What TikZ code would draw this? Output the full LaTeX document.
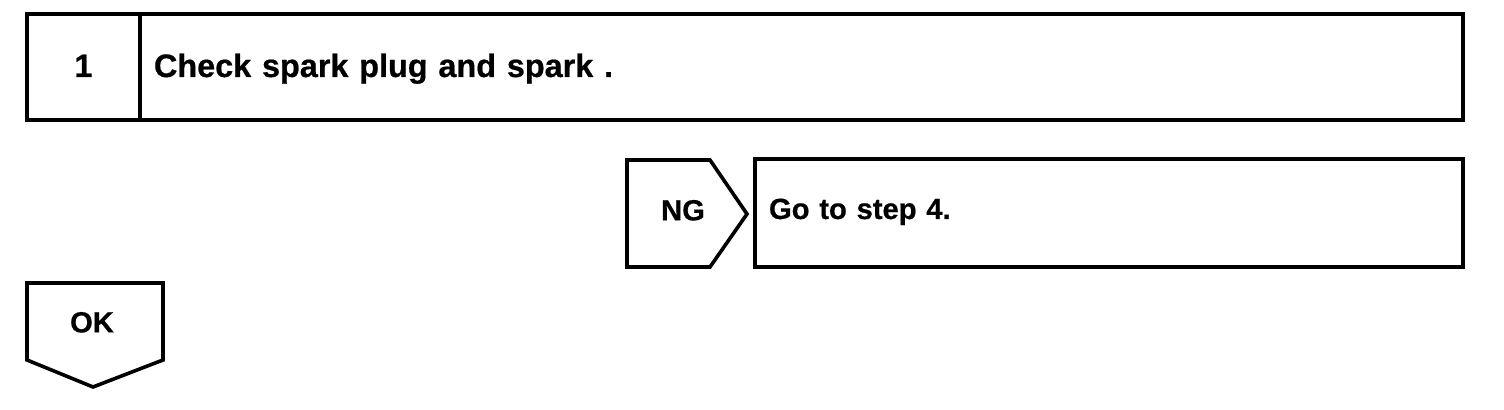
\documentclass[tikz,border=0pt]{standalone}
\usepackage{fontspec}
\setmainfont{Liberation Sans}[BoldFeatures={FakeBold=0.6}]
\usetikzlibrary{positioning}

\begin{document}
\begin{tikzpicture}[
  x=0.5pt, y=-0.5pt,
  font=\bfseries,
  big/.style={font=\bfseries\fontsize{16.2pt}{19pt}\selectfont},
  small/.style={font=\bfseries\fontsize{14.6pt}{17pt}\selectfont},
  box/.style={draw, line width=1.8pt, inner sep=0pt, outer sep=0pt,
              minimum height=53pt, text depth=0pt},
  tag/.style={line width=1.8pt, line join=miter}]

  \useasboundingbox (0,0) rectangle (1504,410);

  % step 1
  \node[box, big, text height=10pt, minimum width=56.5pt] (num) at (83.5,67) {1};
  \node[box, big, text height=10pt, anchor=west, minimum width=661.5pt,
        text width=647.5pt, inner xsep=7pt, align=left] (check) at (num.east)
        {Check spark plug and spark .};

  % NG branch
  \draw[tag] (627,160) -- (710,160) -- (747,214) -- (710,267) -- (627,267) -- cycle;
  \node[small, text height=10.4pt, text depth=0pt] (ng) at (683,210) {NG};
  \node[box, small, text height=6pt, minimum width=354pt, minimum height=54pt,
        text width=340pt, inner xsep=7pt, align=left] (goto) at (1109,213) {Go to step 4.};

  % OK branch
  \draw[tag] (27,283) -- (163,283) -- (163,360) -- (93,387) -- (27,360) -- cycle;
  \node[small, text height=10.4pt, text depth=0pt] (ok) at (92,322) {OK};
\end{tikzpicture}
\end{document}
